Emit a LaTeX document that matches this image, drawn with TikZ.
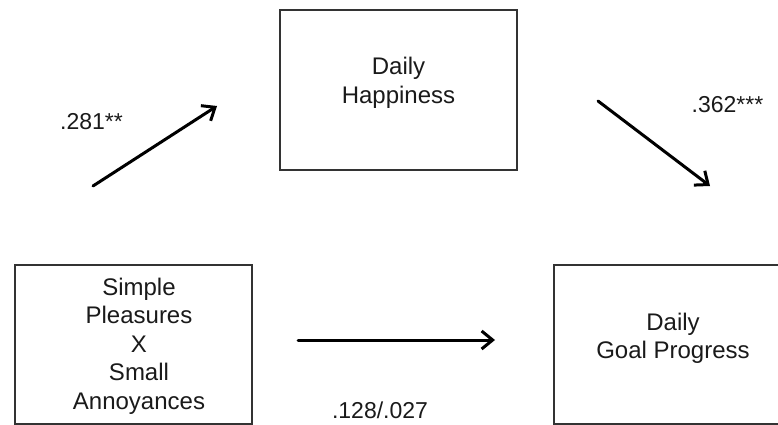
\documentclass[tikz,border=0pt]{standalone}
\usepackage{fontspec}
\setmainfont{Liberation Sans}
\usetikzlibrary{arrows.meta}
\definecolor{boxgray}{HTML}{333333}
\definecolor{txt}{HTML}{1A1A1A}
\tikzset{
  varbox/.style={draw=boxgray, line width=2pt, minimum width=237pt, minimum height=159pt, inner sep=0pt},
  boxtext/.style={align=center, text=txt, font=\fontsize{24}{28.5}\selectfont, inner sep=0pt},
  coef/.style={text=txt, font=\fontsize{23}{27}\selectfont, inner sep=0pt},
  path/.style={line width=3pt, line cap=round, -{Straight Barb[length=11pt,width=18pt,line width=3pt]}}
}
\begin{document}
\begin{tikzpicture}[x=1pt,y=-1pt]
\useasboundingbox (0,0) rectangle (778,425);
\clip (0,0) rectangle (778,425);
\fill[white] (0,0) rectangle (778,425);
% boxes
\node[varbox] (hap) at (398.5,90) {};
\node[varbox] (sp) at (133.5,344.5) {};
\node[varbox] (goal) at (672.5,344.5) {};
% box texts
\node[boxtext] (haptxt) at (398.5,83) {Daily\\Happiness};
\node[boxtext] (sptxt) at (139,346) {Simple\\Pleasures\\X\\Small\\Annoyances};
\node[boxtext] (goaltxt) at (673,338.5) {Daily\\Goal Progress};
% arrow endpoints
\coordinate (a1s) at (93,186);
\coordinate (a1e) at (217,106);
\coordinate (a2s) at (598,101);
\coordinate (a2e) at (710,186);
\coordinate (a3s) at (298,340);
\coordinate (a3e) at (495,340);
\draw[path] (a1s) -- (a1e);
\draw[path] (a2s) -- (a2e);
\draw[path] (a3s) -- (a3e);
% coefficients
\node[coef] (c1) at (91.5,122) {.281**};
\node[coef] (c2) at (727.5,105) {.362***};
\node[coef] (c3) at (380,410) {.128/.027};
\end{tikzpicture}
\end{document}
